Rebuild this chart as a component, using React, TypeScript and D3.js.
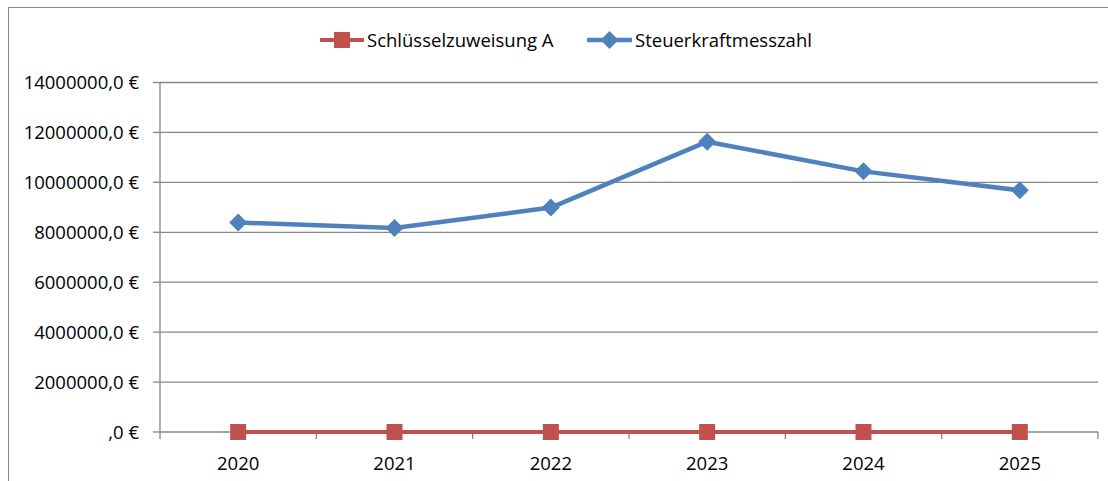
import React from "react";
import * as d3 from "d3";

const years = ["2020", "2021", "2022", "2023", "2024", "2025"];
const schluesselzuweisungA = [0, 0, 0, 0, 0, 0];
const steuerkraftmesszahl = [8390000, 8170000, 8990000, 11630000, 10440000, 9680000];
const yTicks = [0, 2000000, 4000000, 6000000, 8000000, 10000000, 12000000, 14000000];
const seriesNames = ["Schlüsselzuweisung A", "Steuerkraftmesszahl"];

const W = 1108;
const H = 481;
const FONT = "'Open Sans', Lato, sans-serif";
const FS = 18.5;
const RED = "#C0504D";
const BLUE = "#4F81BD";
const GRID = "#868686";

function fmt(v: number) {
  if (v === 0) return ",0 €";
  return `${v},0 €`;
}

export default function App() {
  const x = d3.scaleBand().domain(years).range([160, 1098]);
  const y = d3.scaleLinear().domain([0, 14000000]).range([432, 82.5]);
  const cx = (d: string) => (x(d) as number) + x.bandwidth() / 2;
  const line = d3.line<number>().x((_, i) => cx(years[i])).y((v) => y(v));
  const boundaries = years.map((d) => x(d) as number).concat([1098]);

  return (
    <svg
      width={W}
      height={H}
      style={{ position: "absolute", left: 0, top: 0, background: "#fff" }}
      fontFamily={FONT}
    >
      <rect x={8.5} y={7.5} width={W + 10} height={H + 10} fill="none" stroke="#868686" strokeWidth={1} />
      {yTicks.map((t) => (
        <g key={t}>
          {t !== 0 && <line x1={160} x2={1098} y1={y(t)} y2={y(t)} stroke={GRID} strokeWidth={1.3} />}
          <line x1={153} x2={160} y1={y(t)} y2={y(t)} stroke={GRID} strokeWidth={1.3} />
          <text x={139} y={y(t)} dy="0.36em" textAnchor="end" fontSize={FS} fill="#000">
            {fmt(t)}
          </text>
        </g>
      ))}
      <line x1={160} x2={160} y1={y(14000000)} y2={y(0) + 1} stroke={GRID} strokeWidth={1.3} />
      <line x1={160} x2={1098} y1={y(0)} y2={y(0)} stroke={GRID} strokeWidth={1.3} />
      {boundaries.map((b, i) => (
        <line key={i} x1={b} x2={b} y1={y(0)} y2={y(0) + 7} stroke={GRID} strokeWidth={1.3} />
      ))}
      {years.map((d) => (
        <text key={d} x={cx(d)} y={470} textAnchor="middle" fontSize={FS} fill="#000">
          {d}
        </text>
      ))}
      <path d={line(schluesselzuweisungA) || ""} fill="none" stroke={RED} strokeWidth={4} />
      {schluesselzuweisungA.map((v, i) => (
        <rect key={i} x={cx(years[i]) - 8} y={y(v) - 8} width={16} height={16} fill={RED} />
      ))}
      <path d={line(steuerkraftmesszahl) || ""} fill="none" stroke={BLUE} strokeWidth={4.5} strokeLinejoin="round" />
      {steuerkraftmesszahl.map((v, i) => (
        <path
          key={i}
          transform={`translate(${cx(years[i])},${y(v)})`}
          d="M0,-9L9,0L0,9L-9,0Z"
          fill={BLUE}
        />
      ))}
      {/* legend */}
      <g>
        <line x1={320} x2={364} y1={40} y2={40} stroke={RED} strokeWidth={4} />
        <rect x={334} y={32} width={16} height={16} fill={RED} />
        <text x={367} y={40} dy="0.36em" fontSize={FS} fill="#000">{seriesNames[0]}</text>
        <line x1={587} x2={632} y1={40} y2={40} stroke={BLUE} strokeWidth={4.5} />
        <path transform="translate(609.5,40)" d="M0,-9L9,0L0,9L-9,0Z" fill={BLUE} />
        <text x={635} y={40} dy="0.36em" fontSize={FS} fill="#000">{seriesNames[1]}</text>
      </g>
    </svg>
  );
}
